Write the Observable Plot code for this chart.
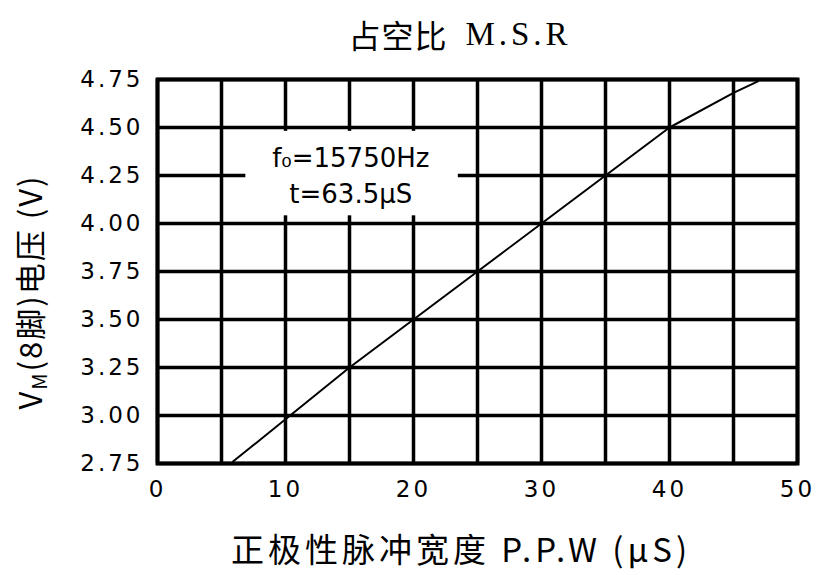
<!DOCTYPE html>
<html><head><meta charset="utf-8">
<script src="https://cdn.jsdelivr.net/npm/d3@7"></script>
<script src="https://cdn.jsdelivr.net/npm/@observablehq/plot@0.6"></script>
<style>
body{margin:0;background:#fff;width:824px;height:575px;overflow:hidden;}
#title{height:64px;display:flex;align-items:center;justify-content:center;padding-left:96px;padding-top:4px;box-sizing:border-box;
 font-family:"Noto Sans CJK SC","Liberation Serif",serif;font-size:32px;color:#000;}
#title .lat{font-family:"Liberation Serif",serif;margin-left:18px;letter-spacing:4px;font-size:33px;}
</style></head>
<body>
<div id="title"><span style="letter-spacing:1px">占空比</span><span class="lat">M.S.R</span></div>
<div id="chart"></div>
<script>
// data
const ppw = [5.9, 10, 15, 20, 25, 30, 35, 40, 45, 46.9];
const vm  = [2.76, 2.98, 3.25, 3.5, 3.75, 4.0, 4.25, 4.5, 4.68, 4.74];
const xGrid = [0, 5, 10, 15, 20, 25, 30, 35, 40, 45, 50];
const yGrid = [2.75, 3.0, 3.25, 3.5, 3.75, 4.0, 4.25, 4.5, 4.75];
const xTicks = [0, 10, 20, 30, 40, 50];
const boxX = [6.9, 23.5];
const boxY = [4.04, 4.48];
const noteLines = ["f₀=15750Hz", "t=63.5μS"];
const noteX = [15.1, 15.1];
const noteY = [4.34, 4.15];

const pts = ppw.map((x, i) => ({x, y: vm[i]}));
const notes = noteLines.map((t, i) => ({t, x: noteX[i], y: noteY[i]}));

const chart = Plot.plot({
  width: 824, height: 511,
  marginLeft: 157, marginRight: 27, marginTop: 15, marginBottom: 112,
  style: {fontFamily: "DejaVu Sans, sans-serif", fontSize: "23px", color: "#000", background: "#fff"},
  x: {domain: [0, 50], ticks: xTicks, tickSize: 0, tickPadding: 17, label: null},
  y: {domain: [2.75, 4.75], ticks: yGrid, tickSize: 0, tickPadding: 14, tickFormat: d => d.toFixed(2), label: null},
  marks: [
    Plot.ruleX(xGrid, {stroke: "#000", strokeWidth: 3.5, strokeOpacity: 1}),
    Plot.ruleY(yGrid, {stroke: "#000", strokeWidth: 3.5, strokeOpacity: 1}),
    Plot.rect([{x1: boxX[0], x2: boxX[1], y1: boxY[0], y2: boxY[1]}], {x1: "x1", x2: "x2", y1: "y1", y2: "y2", fill: "#fff"}),
    Plot.text(notes, {x: "x", y: "y", text: "t", fontSize: 26, fill: "#000", fontFamily: "DejaVu Sans, sans-serif", style: "letter-spacing:3px"}),
    Plot.line(pts, {x: "x", y: "y", stroke: "#000", strokeWidth: 2}),
    Plot.frame({stroke: "#000", strokeWidth: 4})
  ]
});
document.getElementById("chart").appendChild(chart);

const svg = d3.select(chart);
svg.selectAll("g[aria-label$='tick label'] text").style("letter-spacing", "3px");

// y axis label with subscript
const yl = svg.append("text")
  .attr("transform", "translate(42,228) rotate(-90)")
  .attr("text-anchor", "middle")
  .style("font-family", "Noto Sans CJK SC, DejaVu Sans, sans-serif")
  .style("font-size", "31px").style("letter-spacing", "2px").attr("fill", "#000");
yl.append("tspan").text("V");
yl.append("tspan").attr("dy", "5").style("font-size", "20px").text("M");
yl.append("tspan").attr("dy", "-5").text("(8脚)电压 (V)");

// x axis label
svg.append("text")
  .attr("x", 461).attr("y", 498)
  .attr("text-anchor", "middle")
  .style("font-family", "Noto Sans CJK SC, sans-serif")
  .style("font-size", "33px").style("letter-spacing", "4px").attr("fill", "#000")
  .text("正极性脉冲宽度 P.P.W (μS)");
</script>
</body></html>
